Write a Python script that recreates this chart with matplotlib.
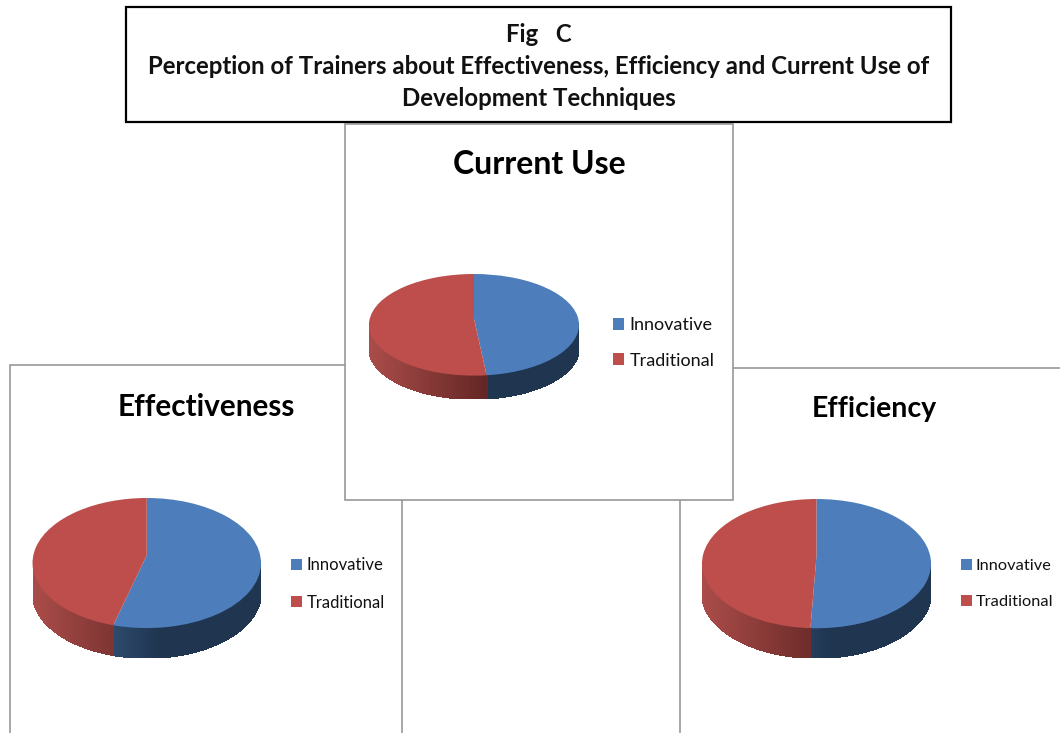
import numpy as np
import matplotlib
matplotlib.use("Agg")
import matplotlib.pyplot as plt
from matplotlib.collections import PolyCollection
from matplotlib.patches import Rectangle
from matplotlib.transforms import Transform, Bbox, TransformedBbox

# ---- data ----
categories = ["Innovative", "Traditional"]
current_use = [48.3, 51.7]
effectiveness = [54.2, 45.8]
efficiency = [50.75, 49.25]
chart_titles = ["Effectiveness", "Efficiency", "Current Use"]
heading = ["Fig   C",
           "Perception of Trainers about Effectiveness, Efficiency and Current Use of",
           "Development Techniques"]

# ---- style ----
W, H = 1060, 733
FONT = "Lato"
TOP_COLORS = ["#4d7ebb", "#bd4e4b"]
SIDE_LIGHT = ["#47719f", "#ab4d4a"]
SIDE_DARK = ["#1f3550", "#642725"]
EDGE = "#8f8f8f"
TILT = 0.12     # how far the far side of the disc is squeezed
DEPTH = 0.46    # rim height in units of the vertical radius

plt.rcParams["font.family"] = [FONT, "DejaVu Sans"]
fig = plt.figure(figsize=(W / 100, H / 100), dpi=100, facecolor="white")
base = fig.add_axes([0, 0, 1, 1], zorder=0)
base.set_xlim(0, W)
base.set_ylim(H, 0)
base.axis("off")


def warp_xy(xy, s=TILT):
    xy = np.asarray(xy, float)
    d = 1 + s * xy[..., 1]
    return np.stack([xy[..., 0] * np.sqrt(1 - s * s) / d, (xy[..., 1] + s) / d], axis=-1)


class Tilt(Transform):
    input_dims = output_dims = 2

    def transform_non_affine(self, values):
        return warp_xy(values)


def hexrgb(c):
    return np.array(matplotlib.colors.to_rgb(c))


def side_color(i, x):
    t = np.clip((x + 1) / 1.12, 0, 1)
    return tuple(hexrgb(SIDE_LIGHT[i]) * (1 - t) + hexrgb(SIDE_DARK[i]) * t)


def pie_3d(values, left, right, top, bottom, zorder):
    ax = fig.add_axes([left / W, 1 - bottom / H, (right - left) / W, (bottom - top) / H], zorder=zorder)
    wedges, _ = ax.pie(values, startangle=90, counterclock=False, colors=TOP_COLORS, radius=1,
                       wedgeprops=dict(linewidth=0))
    ax.set_aspect("auto")
    ax.set_xlim(-1, 1)
    ax.set_ylim(-1 - DEPTH, 1)
    ax.patch.set_alpha(0)
    polys, cols = [], []
    for i, w in enumerate(wedges):
        th = np.radians(np.arange(w.theta1, w.theta2 + 0.5, 1.0))
        th[-1] = np.radians(w.theta2)
        pts = warp_xy(np.column_stack([np.cos(th), np.sin(th)]))
        for a, b in zip(pts[:-1], pts[1:]):
            if min(a[1], b[1]) > 0.02:
                continue
            polys.append([a, b, b - [0, DEPTH], a - [0, DEPTH]])
            cols.append(side_color(i, (a[0] + b[0]) / 2))
        w.set_transform(Tilt() + ax.transData)
        w.set_zorder(3)
    ax.add_collection(PolyCollection(polys, facecolors=cols, edgecolors=cols, linewidths=0.6,
                                     antialiaseds=False, zorder=2))
    return ax, wedges


def legend(ax, wedges, x, y, fs, gap, pad):
    leg = ax.legend(wedges, categories, loc="center left",
                    bbox_to_anchor=(x / W, 1 - y / H), bbox_transform=fig.transFigure,
                    frameon=False, fontsize=fs, borderpad=0, borderaxespad=0,
                    handlelength=11 / (fs * 100 / 72), handleheight=0.66,
                    handletextpad=pad, labelspacing=gap, labelcolor="#111111")
    return leg


def panel(x0, y0, x1, y1, z):
    base.add_patch(Rectangle((x0, y0), x1 - x0, y1 - y0, facecolor="white", edgecolor=EDGE, lw=1.1, zorder=z))


# panels
panel(10, 365, 402, 760, 1)
panel(680, 368, 1075, 760, 1)
panel(345, 124, 733, 500, 5)
base.add_patch(Rectangle((126, 7), 825, 115, facecolor="white", edgecolor="black", lw=1.6, zorder=6))

# heading
for txt, yy in zip(heading, [35, 67, 99]):
    base.text(538.5, yy, txt, ha="center", va="center", fontsize=17.3, fontweight="bold", color="#111111", zorder=7)

# titles
base.text(206.5, 407, chart_titles[0], ha="center", va="center", fontsize=21.4, fontweight="bold", color="black", zorder=7)
base.text(874.5, 409, chart_titles[1], ha="center", va="center", fontsize=20.5, fontweight="bold", color="black", zorder=7)
base.text(539, 164, chart_titles[2], ha="center", va="center", fontsize=23, fontweight="bold", color="black", zorder=7)

# pies
ax_l, w_l = pie_3d(effectiveness, 32.5, 261, 498, 658, 2)
ax_r, w_r = pie_3d(efficiency, 702, 931, 499, 658, 2)
ax_c, w_c = pie_3d(current_use, 369, 579, 274, 399, 8)

legend(ax_l, w_l, 291, 584, 12, 1.28, 0.3)
legend(ax_r, w_r, 961, 584, 11.8, 1.3, 0.2)
leg_c = legend(ax_c, w_c, 613, 343, 13, 1.06, 0.3)
clip = TransformedBbox(Bbox([[600, 300], [733, 368]]), base.transData)
for t in leg_c.get_texts():
    t.set_clip_box(clip)
    t.set_clip_on(True)

fig.savefig("out.png", dpi=100, facecolor="white")
